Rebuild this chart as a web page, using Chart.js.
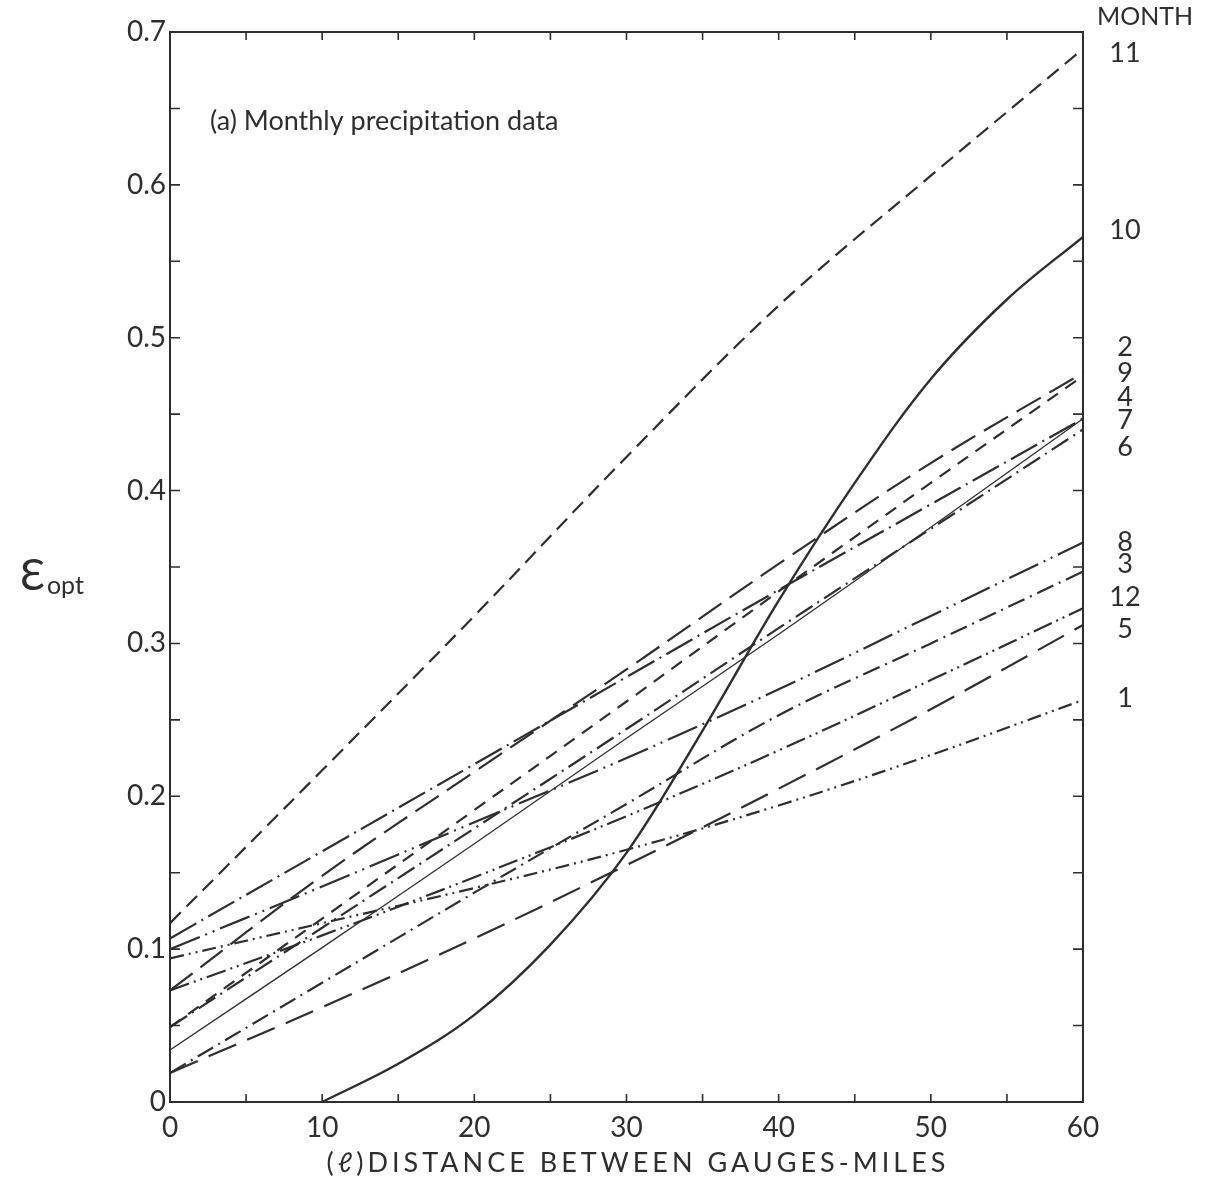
<!DOCTYPE html>
<html>
<head>
<meta charset="utf-8">
<script src="https://cdn.jsdelivr.net/npm/chart.js@4.4.1/dist/chart.umd.min.js"></script>
<style>
  html, body { margin: 0; padding: 0; background: #fff; }
</style>
</head>
<body>
<canvas id="myChart" width="1210" height="1188"></canvas>
<script>
const distances = [0, 10, 20, 30, 40, 50, 60];
const month10Distances = [10, 15, 20, 25, 30, 35, 40, 45, 50, 55, 60];

// optimum epsilon per month
const month11 = [0.117, 0.217, 0.318, 0.422, 0.521, 0.606, 0.689];
const month10 = [0, 0.025, 0.057, 0.103, 0.163, 0.243, 0.328, 0.405, 0.473, 0.525, 0.566];
const month2 = [0.073, 0.148, 0.216, 0.283, 0.352, 0.418, 0.477];
const month9 = [0.049, 0.12, 0.191, 0.262, 0.334, 0.405, 0.475];
const month4 = [0.107, 0.164, 0.221, 0.278, 0.335, 0.391, 0.447];
const month7 = [0.034, 0.101, 0.169, 0.238, 0.306, 0.376, 0.447];
const month6 = [0.049, 0.114, 0.179, 0.244, 0.31, 0.375, 0.44];
const month8 = [0.1, 0.141, 0.183, 0.225, 0.27, 0.318, 0.366];
const month3 = [0.019, 0.078, 0.137, 0.195, 0.253, 0.3, 0.347];
const month12 = [0.073, 0.109, 0.147, 0.187, 0.23, 0.276, 0.323];
const month5 = [0.019, 0.062, 0.107, 0.155, 0.205, 0.257, 0.312];
const month1 = [0.094, 0.117, 0.14, 0.165, 0.194, 0.227, 0.263];

// labels at the right edge, in the order they are stacked
const monthNames = ['11', '10', '2', '9', '4', '7', '6', '8', '3', '12', '5', '1'];
const monthLabelAt = [0.686, 0.570, 0.494, 0.477, 0.461, 0.446, 0.428, 0.366, 0.352, 0.330, 0.309, 0.264];

const INK = '#2e2e2e';
const FONT = 'Lato, "Open Sans", sans-serif';

function pts(xs, ys) {
    return xs.map((x, i) => ({ x: x, y: ys[i] }));
}

function line(label, xs, ys, dash, width) {
    return {
        label: label,
        data: pts(xs, ys),
        borderColor: INK,
        borderWidth: width || 2.2,
        borderDash: dash,
        pointRadius: 0,
        fill: false,
        tension: 0.35
    };
}

const datasets = [
    line('11', distances, month11, [15, 8]),
    line('10', month10Distances, month10, [], 2.4),
    line('2', distances, month2, [28, 10]),
    line('9', distances, month9, [13, 9]),
    line('4', distances, month4, [30, 6, 2, 6]),
    line('7', distances, month7, [], 1.3),
    line('6', distances, month6, [20, 6, 2, 6]),
    line('8', distances, month8, [32, 6, 2, 6, 2, 6]),
    line('3', distances, month3, [18, 6, 2, 6]),
    line('12', distances, month12, [20, 5, 2, 5, 2, 5]),
    line('5', distances, month5, [30, 12]),
    line('1', distances, month1, [14, 5, 2, 5, 2, 5])
];

// frame, inward ticks and all the loose text
const decorPlugin = {
    id: 'decor',
    afterDraw(chart) {
        const ctx = chart.ctx;
        const a = chart.chartArea;
        const xs = chart.scales.x;
        const ys = chart.scales.y;
        ctx.save();
        ctx.strokeStyle = INK;
        ctx.lineWidth = 2;
        ctx.strokeRect(a.left, a.top, a.right - a.left, a.bottom - a.top);

        ctx.lineWidth = 1.6;
        ctx.beginPath();
        xs.ticks.forEach(t => {
            const p = xs.getPixelForValue(t.value);
            ctx.moveTo(p, a.bottom); ctx.lineTo(p, a.bottom - 8);
            ctx.moveTo(p, a.top); ctx.lineTo(p, a.top + 8);
        });
        ys.ticks.forEach(t => {
            const p = ys.getPixelForValue(t.value);
            ctx.moveTo(a.left, p); ctx.lineTo(a.left + 10, p);
            ctx.moveTo(a.right, p); ctx.lineTo(a.right - 10, p);
        });
        ctx.stroke();

        ctx.fillStyle = INK;
        ctx.textBaseline = 'middle';

        // panel label
        ctx.textAlign = 'left';
        ctx.font = '27px ' + FONT;
        ctx.fillText('(a) Monthly precipitation data', 210, 121);

        // month labels
        ctx.textAlign = 'center';
        ctx.font = '25px ' + FONT;
        ctx.fillText('MONTH', 1145, 17);
        ctx.font = '27px ' + FONT;
        monthNames.forEach((m, i) => {
            ctx.fillText(m, 1125, ys.getPixelForValue(monthLabelAt[i]));
        });

        // y title
        ctx.textAlign = 'left';
        ctx.font = '42px ' + FONT;
        ctx.fillText('\u0190', 20, 576);
        const w = ctx.measureText('\u0190').width;
        ctx.font = '25px ' + FONT;
        ctx.fillText('opt', 20 + w + 2, 586);

        // x title
        ctx.textAlign = 'center';
        ctx.font = '27px ' + FONT;
        ctx.letterSpacing = '4px';
        ctx.fillText('(\u2113)DISTANCE BETWEEN GAUGES-MILES', 638, 1163);
        ctx.restore();
    }
};

new Chart(document.getElementById('myChart'), {
    type: 'line',
    data: { datasets: datasets },
    options: {
        responsive: false,
        animation: false,
        layout: { padding: { left: 100, right: 127, top: 32, bottom: 46 } },
        plugins: {
            legend: { display: false },
            tooltip: { enabled: false }
        },
        scales: {
            x: {
                type: 'linear',
                min: 0,
                max: 60,
                grid: { display: false, drawTicks: false },
                border: { display: false },
                ticks: {
                    stepSize: 5,
                    autoSkip: false,
                    maxRotation: 0,
                    padding: 9,
                    color: INK,
                    font: { family: FONT, size: 28 },
                    callback: v => (v % 10 === 0 ? String(v) : '')
                },
                afterFit: s => { s.height = 40; }
            },
            y: {
                min: 0,
                max: 0.7,
                grid: { display: false, drawTicks: false },
                border: { display: false },
                ticks: {
                    stepSize: 0.05,
                    autoSkip: false,
                    padding: 4,
                    color: INK,
                    font: { family: FONT, size: 28 },
                    callback: v => {
                        const k = Math.round(v * 100);
                        if (k % 10 !== 0) return '';
                        return k === 0 ? '0' : (k / 100).toFixed(1);
                    }
                },
                afterFit: s => { s.width = 70; }
            }
        }
    },
    plugins: [decorPlugin]
});
</script>
</body>
</html>
